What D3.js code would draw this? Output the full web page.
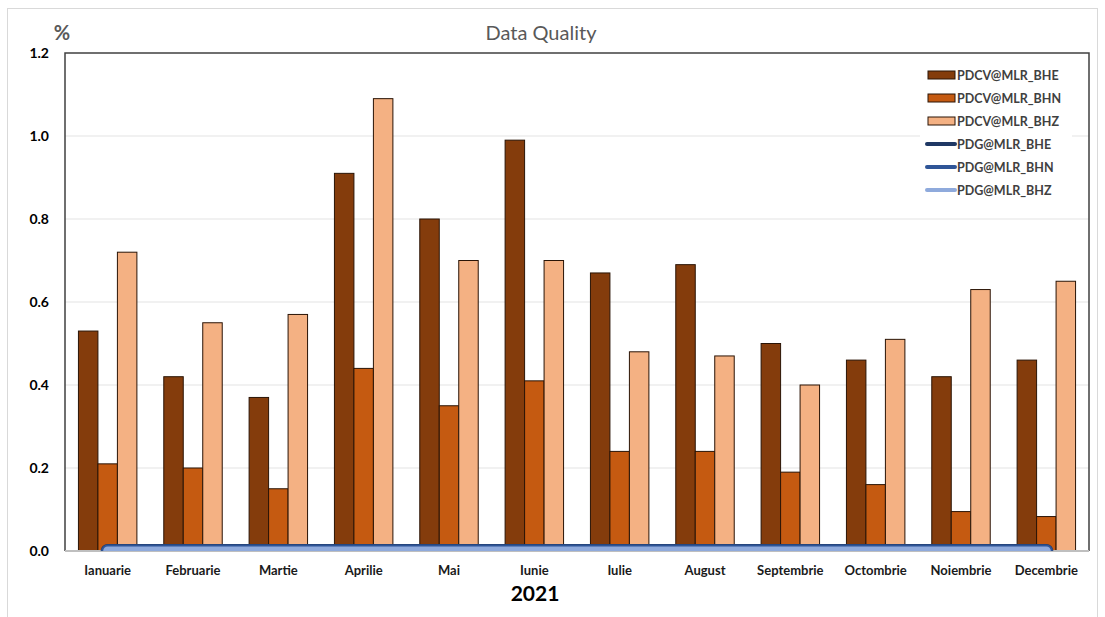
<!DOCTYPE html>
<html>
<head>
<meta charset="utf-8">
<script src="https://cdn.jsdelivr.net/npm/d3@7"></script>
<style>
  body { margin: 0; background: #fff; font-family: Lato, "Open Sans", sans-serif; }
  svg { display: block; }
</style>
</head>
<body>
<div id="graphic"></div>
<script>
// months on the x axis
const months = ["Ianuarie", "Februarie", "Martie", "Aprilie", "Mai", "Iunie",
  "Iulie", "August", "Septembrie", "Octombrie", "Noiembrie", "Decembrie"];

// bar series (PDCV)
const barSeries = ["PDCV@MLR_BHE", "PDCV@MLR_BHN", "PDCV@MLR_BHZ"];
const bheValues = [0.53, 0.42, 0.37, 0.91, 0.80, 0.99, 0.67, 0.69, 0.50, 0.46, 0.42, 0.46];
const bhnValues = [0.21, 0.20, 0.15, 0.44, 0.35, 0.41, 0.24, 0.24, 0.19, 0.16, 0.095, 0.083];
const bhzValues = [0.72, 0.55, 0.57, 1.09, 0.70, 0.70, 0.48, 0.47, 0.40, 0.51, 0.63, 0.65];

// line series (PDG) - all zero
const lineSeries = ["PDG@MLR_BHE", "PDG@MLR_BHN", "PDG@MLR_BHZ"];
const pdgBhe = [0, 0, 0, 0, 0, 0, 0, 0, 0, 0, 0, 0];
const pdgBhn = [0, 0, 0, 0, 0, 0, 0, 0, 0, 0, 0, 0];
const pdgBhz = [0, 0, 0, 0, 0, 0, 0, 0, 0, 0, 0, 0];

const yTicks = [0, 0.2, 0.4, 0.6, 0.8, 1.0, 1.2];

const barColours = ["#843C0C", "#C55A11", "#F4B183"];
const lineColours = ["#1F3864", "#2F5597", "#8FAADC"];

const width = 1105, height = 617;
const margin = {top: 53, right: 16, bottom: 66, left: 65};

const svg = d3.select('#graphic').append('svg')
  .attr('width', width)
  .attr('height', height);

// outer frame
svg.append('rect')
  .attr('x', 7.5).attr('y', 8.5)
  .attr('width', 1090).attr('height', 620)
  .attr('fill', 'none')
  .attr('stroke', '#d9d9d9');

const x0 = d3.scaleBand()
  .domain(months)
  .range([margin.left, width - margin.right])
  .paddingInner(0.315)
  .paddingOuter(0.1575);

const x1 = d3.scaleBand()
  .domain(barSeries)
  .range([0, x0.bandwidth()]);

const y = d3.scaleLinear()
  .domain([0, 1.2])
  .range([height - margin.bottom, margin.top]);

// gridlines
svg.append('g')
  .selectAll('line')
  .data(yTicks.filter(d => d > 0 && d < 1.2))
  .join('line')
  .attr('x1', margin.left).attr('x2', width - margin.right)
  .attr('y1', d => y(d)).attr('y2', d => y(d))
  .attr('stroke', '#e3e3e3')
  .attr('stroke-width', 1);

// y axis labels
svg.append('g')
  .selectAll('text')
  .data(yTicks)
  .join('text')
  .attr('x', 49)
  .attr('y', d => y(d) + 5)
  .attr('text-anchor', 'end')
  .attr('font-size', 14)
  .attr('font-weight', 'bold')
  .attr('fill', '#000')
  .text(d3.format('.1f'));

// bars
const barData = months.map((m, i) => ({
  month: m,
  values: [bheValues[i], bhnValues[i], bhzValues[i]]
}));

svg.append('g')
  .selectAll('g')
  .data(barData)
  .join('g')
  .attr('transform', d => 'translate(' + x0(d.month) + ',0)')
  .selectAll('rect')
  .data(d => d.values.map((v, j) => ({series: barSeries[j], value: v, idx: j})))
  .join('rect')
  .attr('x', d => x1(d.series))
  .attr('y', d => y(d.value))
  .attr('width', x1.bandwidth())
  .attr('height', d => y(0) - y(d.value))
  .attr('fill', d => barColours[d.idx])
  .attr('stroke', '#2a1406')
  .attr('stroke-width', 1);

// plot frame: left, top, right dark; bottom light
const plotRight = width - margin.right;
svg.append('path')
  .attr('d', 'M' + margin.left + ',' + y(0) + 'V' + y(1.2) + 'H' + plotRight + 'V' + y(0))
  .attr('fill', 'none')
  .attr('stroke', '#404040')
  .attr('stroke-width', 1.5);

svg.append('line')
  .attr('x1', margin.left).attr('x2', plotRight)
  .attr('y1', y(0)).attr('y2', y(0))
  .attr('stroke', '#bfbfbf')
  .attr('stroke-width', 2);

// PDG lines at zero, clipped to the plot area
svg.append('clipPath').attr('id', 'plotClip')
  .append('rect')
  .attr('x', margin.left).attr('y', y(1.2))
  .attr('width', plotRight - margin.left)
  .attr('height', y(0) - y(1.2));

const line = d3.line()
  .x((d, i) => x0(months[i]) + x0.bandwidth() / 2)
  .y(d => y(d));

const lineWidths = [14, 13, 9];
[pdgBhe, pdgBhn, pdgBhz].forEach((vals, j) => {
  svg.append('path')
    .attr('clip-path', 'url(#plotClip)')
    .attr('d', line(vals))
    .attr('fill', 'none')
    .attr('stroke', lineColours[j])
    .attr('stroke-width', lineWidths[j])
    .attr('stroke-linecap', 'round')
    .attr('stroke-linejoin', 'round');
});

// x axis labels
svg.append('g')
  .selectAll('text')
  .data(months)
  .join('text')
  .attr('x', d => x0(d) + x0.bandwidth() / 2)
  .attr('y', 575)
  .attr('text-anchor', 'middle')
  .attr('font-size', 13)
  .attr('font-weight', 'bold')
  .attr('fill', '#1a1a1a')
  .text(d => d);

// x axis title
svg.append('text')
  .attr('x', 535).attr('y', 601)
  .attr('text-anchor', 'middle')
  .attr('font-size', 21)
  .attr('font-weight', 'bold')
  .attr('fill', '#000')
  .text('2021');

// chart title
svg.append('text')
  .attr('x', 541).attr('y', 40)
  .attr('text-anchor', 'middle')
  .attr('font-size', 20)
  .attr('fill', '#595959')
  .text('Data Quality');

// unit label
svg.append('text')
  .attr('x', 62).attr('y', 40)
  .attr('text-anchor', 'middle')
  .attr('font-size', 20)
  .attr('font-weight', 'bold')
  .attr('fill', '#595959')
  .text('%');

// legend
const legend = svg.append('g').attr('transform', 'translate(920,62)');
legend.append('rect')
  .attr('x', 0).attr('y', 0)
  .attr('width', 152).attr('height', 140)
  .attr('fill', '#fff');

const legendItems = barSeries.map((s, j) => ({name: s, type: 'bar', colour: barColours[j]}))
  .concat(lineSeries.map((s, j) => ({name: s, type: 'line', colour: lineColours[j]})));

const item = legend.selectAll('g.legend--item')
  .data(legendItems)
  .join('g')
  .attr('class', 'legend--item')
  .attr('transform', (d, i) => 'translate(0,' + (13 + i * 23) + ')');

item.filter(d => d.type === 'bar').append('rect')
  .attr('x', 8).attr('y', -4)
  .attr('width', 27).attr('height', 8)
  .attr('fill', d => d.colour)
  .attr('stroke', '#2a1406')
  .attr('stroke-width', 1);

item.filter(d => d.type === 'line').append('line')
  .attr('x1', 7).attr('x2', 35)
  .attr('y1', 0).attr('y2', 0)
  .attr('stroke', d => d.colour)
  .attr('stroke-width', 4)
  .attr('stroke-linecap', 'round');

item.append('text')
  .attr('x', 37).attr('y', 4.5)
  .attr('font-size', 12.5)
  .attr('font-weight', 'bold')
  .attr('fill', '#404040')
  .text(d => d.name);
</script>
</body>
</html>
